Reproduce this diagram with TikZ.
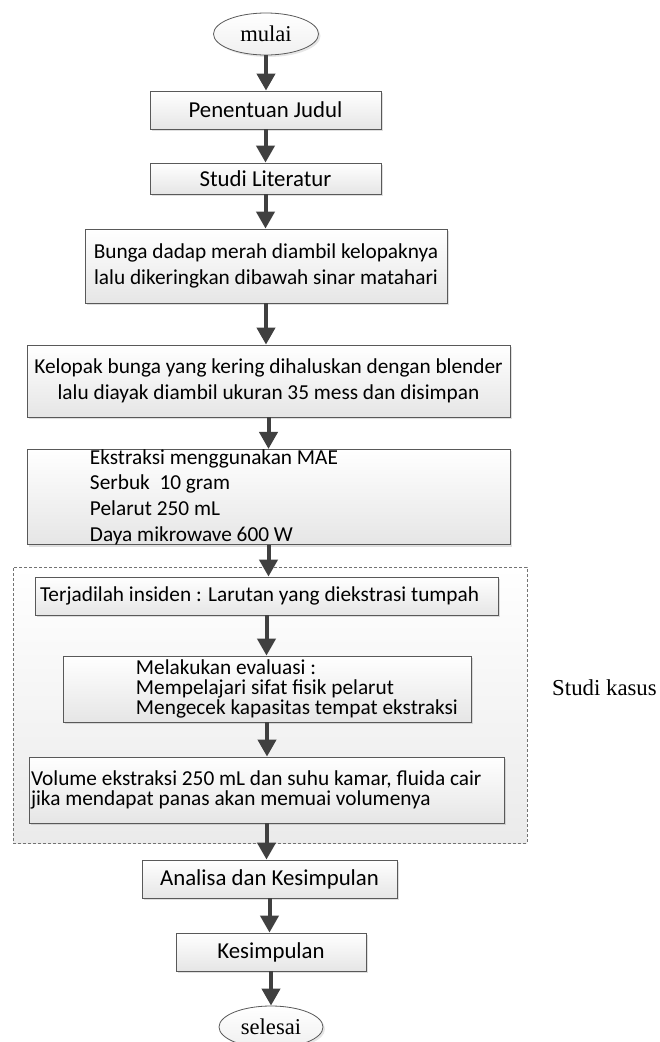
\documentclass[tikz,border=0pt]{standalone}
\usepackage{fontspec}
\setmainfont{Liberation Serif}
\newfontfamily\calibri{Carlito}
\usetikzlibrary{arrows.meta,shapes.geometric,shadows}

\begin{document}
\begin{tikzpicture}[x=1pt,y=-1pt,
    kotak/.style={draw=black!65, line width=0.8pt, top color=white, bottom color=black!10, drop shadow={shadow xshift=2pt, shadow yshift=-2pt, opacity=0.25}, inner sep=0pt, font=\calibri\fontsize{22.8}{25.7}\selectfont, align=center},
    kecil/.style={font=\calibri\fontsize{21.3}{25.7}\selectfont},
    kiri/.style={text width=#1pt, align=flush left},
    rapat/.style={font=\calibri\fontsize{21.3}{20}\selectfont},
    oval/.style={ellipse, draw=black!65, line width=0.8pt, top color=white, bottom color=black!6, drop shadow={shadow xshift=2pt, shadow yshift=-2pt, opacity=0.2}, inner sep=0pt, font=\fontsize{22.6}{27}\selectfont},
    kasus/.style={draw=black!55, dash pattern=on 3pt off 2pt, line width=0.7pt, top color=white, bottom color=black!8, inner sep=0pt},
    panah/.style={draw=black!75, line width=4pt, -{Triangle[length=17pt,width=18pt]}}]
    \useasboundingbox (0,0) rectangle (659,1042);
    \node[kasus, minimum width=514pt, minimum height=276pt] (grup) at (270,705) {};
    \node[font=\fontsize{22.8}{27}\selectfont] (studikasus) at (604.5,688) {Studi kasus};
    \node[oval, minimum width=105pt, minimum height=42pt] (mulai) at (266,34) {mulai};
    \node[kotak, minimum width=231pt, minimum height=38pt] (judul) at (265.5,110) {Penentuan Judul};
    \node[kotak, minimum width=231pt, minimum height=31pt] (literatur) at (265.5,178.5) {Studi Literatur};
    \node[kotak, kecil, minimum width=362pt, minimum height=74pt] (bunga) at (266,266) {Bunga dadap merah diambil kelopaknya\\lalu dikeringkan dibawah sinar matahari};
    \node[kotak, kecil, minimum width=483pt, minimum height=72pt] (kelopak) at (268.5,381) {Kelopak bunga yang kering dihaluskan dengan blender\\lalu diayak diambil ukuran 35 mess dan disimpan};
    \node[kotak, kecil, kiri=483, minimum height=90pt] (ekstraksi) at (268.5,497) {\leftskip=63pt Ekstraksi menggunakan MAE\\Serbuk~ 10 gram\\Pelarut 250 mL\\Daya mikrowave 600 W\par};
    \node[kotak, kecil, kiri=463, minimum height=38pt] (insiden) at (266.5,596) {\leftskip=5pt Terjadilah insiden : Larutan yang diekstrasi tumpah\par};
    \node[kotak, rapat, kiri=408, minimum height=66pt] (evaluasi) at (267,689) {\leftskip=73pt Melakukan evaluasi :\\Mempelajari sifat fisik pelarut\\Mengecek kapasitas tempat ekstraksi\par};
    \node[kotak, rapat, kiri=475, minimum height=66pt] (volume) at (266.5,790) {\leftskip=2pt Volume ekstraksi 250 mL dan suhu kamar, fluida cair\\jika mendapat panas akan memuai volumenya\par};
    \node[kotak, minimum width=255pt, minimum height=38pt] (analisa) at (269.5,879) {Analisa dan Kesimpulan};
    \node[kotak, minimum width=190pt, minimum height=38pt] (kesimpulan) at (271,952) {Kesimpulan};
    \node[oval, minimum width=104pt, minimum height=42pt] (selesai) at (271,1027) {selesai};
    \draw[panah] (mulai.south) -- (mulai.south |- judul.north);
    \draw[panah] (judul.south) -- (judul.south |- literatur.north);
    \draw[panah] (literatur.south) -- (literatur.south |- bunga.north);
    \draw[panah] (bunga.south) -- (bunga.south |- kelopak.north);
    \draw[panah] (kelopak.south) -- (kelopak.south |- ekstraksi.north);
    \draw[panah] (ekstraksi.south) -- (ekstraksi.south |- insiden.north);
    \draw[panah] (insiden.south) -- (insiden.south |- evaluasi.north);
    \draw[panah] (evaluasi.south) -- (evaluasi.south |- volume.north);
    \draw[panah] (volume.south) -- (volume.south |- analisa.north);
    \draw[panah] (analisa.south) -- (analisa.south |- kesimpulan.north);
    \draw[panah] (kesimpulan.south) -- (kesimpulan.south |- selesai.north);
\end{tikzpicture}
\end{document}
